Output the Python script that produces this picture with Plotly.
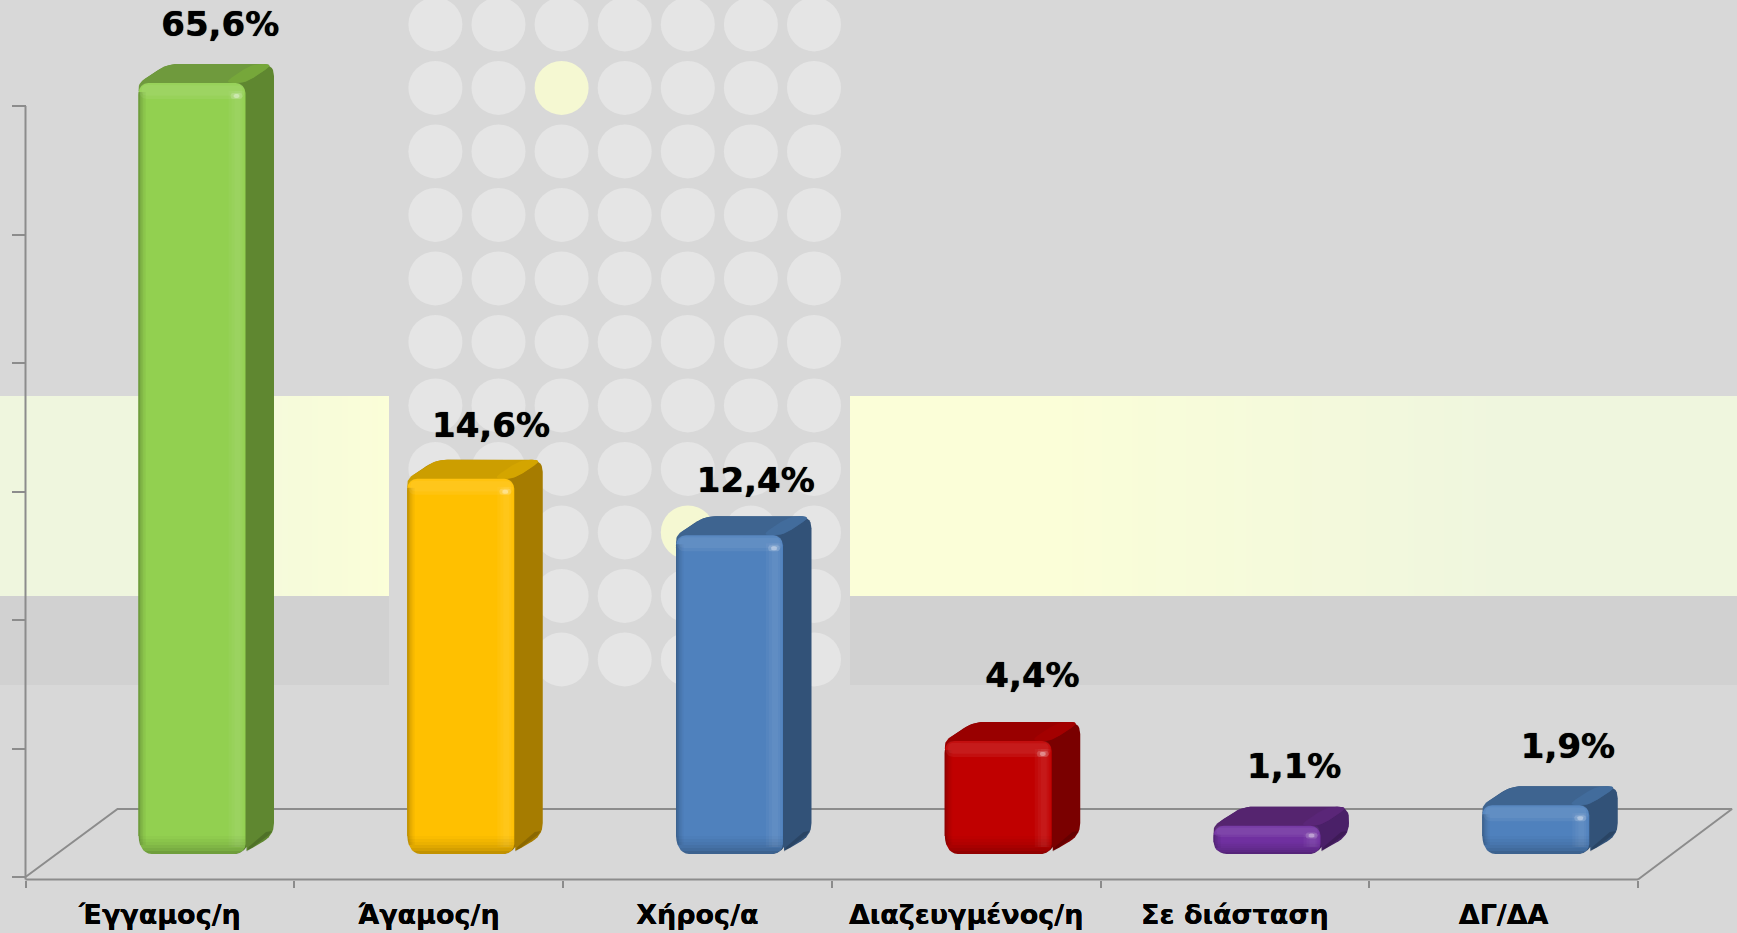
import plotly.graph_objects as go

categories = ["Έγγαμος/η", "Άγαμος/η", "Χήρος/α", "Διαζευγμένος/η", "Σε διάσταση", "ΔΓ/ΔΑ"]
values = [65.6, 14.6, 12.4, 4.4, 1.1, 1.9]
labels = ["65,6%", "14,6%", "12,4%", "4,4%", "1,1%", "1,9%"]
y_tick_values = [0, 5, 10, 15, 20, 25, 30]
axis_max = 30

main_colors = ["#92d050", "#ffc000", "#4f81bd", "#c00000", "#7030a0", "#4f81bd"]
side_colors = ["#5f8730", "#a67c00", "#325278", "#7a0000", "#4a2068", "#325278"]
top_colors = ["#6f9a3d", "#cc9e00", "#3e6490", "#990000", "#55246f", "#3e6490"]
top_light_colors = ["#76a73a", "#d4a500", "#426c9c", "#a30000", "#5a2678", "#426c9c"]
label_dx_px = [14, 16, 12, 20, 13, 18]
label_dy_px = [37, 31, 33, 43, 37, 37]

W, H = 1737, 933
L, R_EDGE = 25.5, 1638.0
Z = 877.0            # page row of value 0 on the value axis
PX_Y = 25.7
Y_LOW = -0.1
AXIS_Y = Z - Y_LOW * PX_Y
PX_X = (R_EDGE - L) / 6
DEPTH_X, DEPTH_Y = 28.5, 19.0
BASE_PX = 23.0
BAR_W = 107.0
BAR_LEFT_OFF = 113.0
BG = "#d8d8d8"
AXIS_COL = "#8c8c8c"


def ux(px):
    return px / PX_X


def uy(px):
    return px / PX_Y


def bez(a, c, b, n=7):
    return [((1 - k / n) ** 2 * a[0] + 2 * (k / n) * (1 - k / n) * c[0] + (k / n) ** 2 * b[0],
             (1 - k / n) ** 2 * a[1] + 2 * (k / n) * (1 - k / n) * c[1] + (k / n) ** 2 * b[1]) for k in range(n + 1)]


def rounded(pts, r):
    n = len(pts)
    out = []
    for i in range(n):
        p0, p1, p2 = pts[i - 1], pts[i], pts[(i + 1) % n]
        d1 = ((p1[0] - p0[0]) ** 2 + (p1[1] - p0[1]) ** 2) ** 0.5
        d2 = ((p2[0] - p1[0]) ** 2 + (p2[1] - p1[1]) ** 2) ** 0.5
        rr = min(r, d1 / 2, d2 / 2)
        a = (p1[0] + (p0[0] - p1[0]) * rr / max(d1, 1e-6), p1[1] + (p0[1] - p1[1]) * rr / max(d1, 1e-6))
        b = (p1[0] + (p2[0] - p1[0]) * rr / max(d2, 1e-6), p1[1] + (p2[1] - p1[1]) * rr / max(d2, 1e-6))
        out += bez(a, p1, b)
    return out


fig = go.Figure()


def poly(pts, color, axes=("x", "y")):
    xs = [ux(p[0]) for p in pts] + [ux(pts[0][0])]
    ys = [uy(p[1]) for p in pts] + [uy(pts[0][1])]
    fig.add_trace(go.Scatter(x=xs, y=ys, mode="lines", fill="toself", fillcolor=color,
                             line=dict(width=0), hoverinfo="skip", showlegend=False,
                             xaxis=axes[0], yaxis=axes[1]))


def line(xs, ys):
    fig.add_trace(go.Scatter(x=xs, y=ys, mode="lines", line=dict(color=AXIS_COL, width=2),
                             hoverinfo="skip", showlegend=False))


# axis lines and floor
x_end = ux(R_EDGE - L)
line([0, 0], [Y_LOW, axis_max])
line([0, x_end], [Y_LOW, Y_LOW])
line([0, ux(92), ux(R_EDGE - L + 94), x_end], [0, uy(68), uy(68), Y_LOW])

OVER = ("x2", "y2")
base_u = BASE_PX / PX_Y
for i, v in enumerate(values):
    h = min(v, axis_max)
    x0 = i * PX_X + BAR_LEFT_OFF
    x1 = x0 + BAR_W
    y0 = BASE_PX
    y1 = y0 + h * PX_Y
    # side face / silhouette
    poly(rounded([(x0, y0), (x0, y1), (x0 + DEPTH_X, y1 + DEPTH_Y), (x1 + DEPTH_X, y1 + DEPTH_Y),
                  (x1 + DEPTH_X, y0 + DEPTH_Y), (x1 - 3, y0)], 12), side_colors[i])
    # dark rim along the side's lower edge
    poly([(x1 + 1, y0 + 2), (x1 + DEPTH_X - 5, y0 + DEPTH_Y), (x1 + DEPTH_X - 2, y0 + DEPTH_Y + 4),
          (x1 + DEPTH_X - 8, y0 + DEPTH_Y + 3), (x1 + 3, y0 + 7)], "rgba(0,0,0,0.16)")
    # top face and its lighter right end
    poly(rounded([(x0, y1 - 12), (x0, y1), (x0 + DEPTH_X, y1 + DEPTH_Y), (x1 + DEPTH_X, y1 + DEPTH_Y), (x1, y1)], 11),
         top_colors[i])
    poly(rounded([(x1 - 22, y1), (x1 - 22 + DEPTH_X, y1 + DEPTH_Y), (x1 + DEPTH_X, y1 + DEPTH_Y), (x1, y1)], 10),
         top_light_colors[i])

# front faces are real bars on an overlaying pair of axes
bar_h = [min(v, axis_max) for v in values]
fig.add_trace(go.Bar(x=[k + 0.5 for k in range(len(values))], y=bar_h,
                     base=[base_u] * len(values), width=BAR_W / PX_X,
                     offset=[(BAR_LEFT_OFF / PX_X) - 0.5] * len(values),
                     marker=dict(color=main_colors, line=dict(width=0), cornerradius=10),
                     hoverinfo="skip", showlegend=False, xaxis="x2", yaxis="y2"))

for i, v in enumerate(values):
    h = min(v, axis_max)
    x0 = i * PX_X + BAR_LEFT_OFF
    x1 = x0 + BAR_W
    y0 = BASE_PX
    y1 = y0 + h * PX_Y
    fh = y1 - y0
    ry = min(18, fh * 0.42)
    # left shading
    for k, a in enumerate([0.24, 0.16, 0.10, 0.06, 0.03]):
        poly([(x0 + k * 1.5, y0 + ry * 0.5), (x0 + k * 1.5 + 1.5, y0 + ry * 0.5),
              (x0 + k * 1.5 + 1.5, y1 - 9), (x0 + k * 1.5, y1 - 9)], f"rgba(0,0,0,{a})", OVER)
    # right highlight, soft
    for k in range(3):
        poly([(x1 - 17 + k * 3, y0 + 7), (x1 - 1 - k * 2, y0 + 7), (x1 - 1 - k * 2, y1 - 8), (x1 - 17 + k * 3, y1 - 8)],
             "rgba(255,255,255,0.035)", OVER)
    # top highlight, soft
    sh = min(16, fh * 0.4)
    poly(rounded([(x0 + 1, y1 - sh), (x0 + 1, y1), (x1 - 1, y1), (x1 - 1, y1 - sh)], 8), "rgba(255,255,255,0.06)", OVER)
    poly(rounded([(x0 + 3, y1 - sh * 0.8), (x0 + 3, y1 - 2), (x1 - 3, y1 - 2), (x1 - 3, y1 - sh * 0.8)], 6),
         "rgba(255,255,255,0.05)", OVER)
    # bottom shading
    for k, a in enumerate([0.24, 0.17, 0.12, 0.08, 0.05, 0.02]):
        sb = min(3.0, fh * 0.07)
        poly([(x0, y0 + k * sb), (x1, y0 + k * sb), (x1, y0 + (k + 1) * sb), (x0, y0 + (k + 1) * sb)],
             f"rgba(0,0,0,{a})", OVER)
    # specular glint
    gx = x1 - 9
    gy = y1 - 13 if fh > 45 else y1 - fh * 0.35
    poly(rounded([(gx - 6, gy - 3), (gx - 6, gy + 3), (gx + 6, gy + 3), (gx + 6, gy - 3)], 3), "rgba(255,255,255,0.16)", OVER)
    poly(rounded([(gx - 3, gy - 2), (gx - 3, gy + 2), (gx + 3, gy + 2), (gx + 3, gy - 2)], 2), "rgba(255,255,255,0.35)", OVER)
    # rounded bottom corners of the front
    poly([(x0 - 1, y0 - 1)] + bez((x0 + 13, y0), (x0 + 1, y0 + 1), (x0, y0 + ry)) + [(x0 - 1, y0 + ry)], BG, OVER)
    poly([(x1 + 1, y0 - 1)] + bez((x1 - 9, y0), (x1 - 3, y0 + 1), (x1 + 1, y0 + 7)), BG, OVER)

# value labels
lx = [(i * PX_X + BAR_LEFT_OFF + (BAR_W + DEPTH_X) / 2 + label_dx_px[i]) / PX_X for i in range(len(values))]
ly = [base_u + min(v, axis_max) + uy(DEPTH_Y + label_dy_px[i]) for i, v in enumerate(values)]
fig.add_trace(go.Scatter(x=lx, y=ly, mode="text", text=labels, textposition="middle center",
                         textfont=dict(family="DejaVu Sans", size=34, color="#000000", weight="bold",
                                       shadow="0 0 0.8px #000000"),
                         hoverinfo="skip", showlegend=False, xaxis="x2", yaxis="y2"))

# background decoration in page pixels
shapes = []


def rect(x0, y0, x1, y1, c):
    shapes.append(dict(type="rect", xref="paper", yref="paper", x0=x0 / W, x1=x1 / W, y0=1 - y0 / H, y1=1 - y1 / H,
                       fillcolor=c, line=dict(width=0), layer="below"))


def mix(t):
    t = max(0.0, min(1.0, t))
    a, b = (251, 254, 216), (239, 246, 222)
    return "rgb(%d,%d,%d)" % tuple(round(a[k] + (b[k] - a[k]) * t) for k in range(3))


rect(0, 596, 389, 685, "#d1d1d1")
rect(850, 596, W, 685, "#d1d1d1")
step = 6
for sx in range(0, 389, step):
    rect(sx, 396, min(sx + step + 1, 389), 596, mix((389 - sx) / 250))
for sx in range(850, W, step):
    rect(sx, 396, min(sx + step + 1, W), 596, mix((sx - 1040) / 460))
for c_i in range(7):
    for r_i in range(11):
        cx = 435.4 + 63.1 * c_i
        cy = 24.4 + 63.5 * r_i
        col = "#f5f8d2" if (c_i, r_i) in [(2, 1), (4, 8)] else "#e5e5e5"
        shapes.append(dict(type="circle", xref="paper", yref="paper", x0=(cx - 27) / W, x1=(cx + 27) / W,
                           y0=1 - (cy + 27) / H, y1=1 - (cy - 27) / H, fillcolor=col, line=dict(width=0), layer="below"))

x_range = [-L / PX_X, (W - L) / PX_X]
y_range = [(Z - H) / PX_Y, Z / PX_Y]
fig.update_layout(
    width=W, height=H, margin=dict(l=0, r=0, t=0, b=0, autoexpand=False),
    paper_bgcolor=BG, plot_bgcolor="rgba(0,0,0,0)", showlegend=False, barmode="overlay", shapes=shapes,
    xaxis=dict(range=x_range, anchor="free", position=1 - AXIS_Y / H, tickmode="array",
               tickvals=[k + 0.5 for k in range(6)], ticktext=categories,
               ticks="", showgrid=False, zeroline=False, showline=False, ticklabelstandoff=16,
               tickfont=dict(family="DejaVu Sans", size=27, color="#000000", weight="bold", shadow="0 0 0.6px #000000"),
               minor=dict(tickmode="array", tickvals=list(range(7)), ticks="outside", ticklen=7, tickcolor=AXIS_COL,
                          tickwidth=2, showgrid=False)),
    yaxis=dict(range=y_range, anchor="free", position=L / W, tickmode="array", tickvals=y_tick_values,
               showticklabels=False, ticks="outside", ticklen=14, tickcolor=AXIS_COL, tickwidth=2,
               showgrid=False, zeroline=False, showline=False),
    xaxis2=dict(range=x_range, overlaying="x", visible=False),
    yaxis2=dict(range=y_range, overlaying="y", visible=False),
)

fig.write_html("out.html", config={"displayModeBar": False},
               post_script="document.body.style.margin='0';document.body.style.overflow='hidden';")
